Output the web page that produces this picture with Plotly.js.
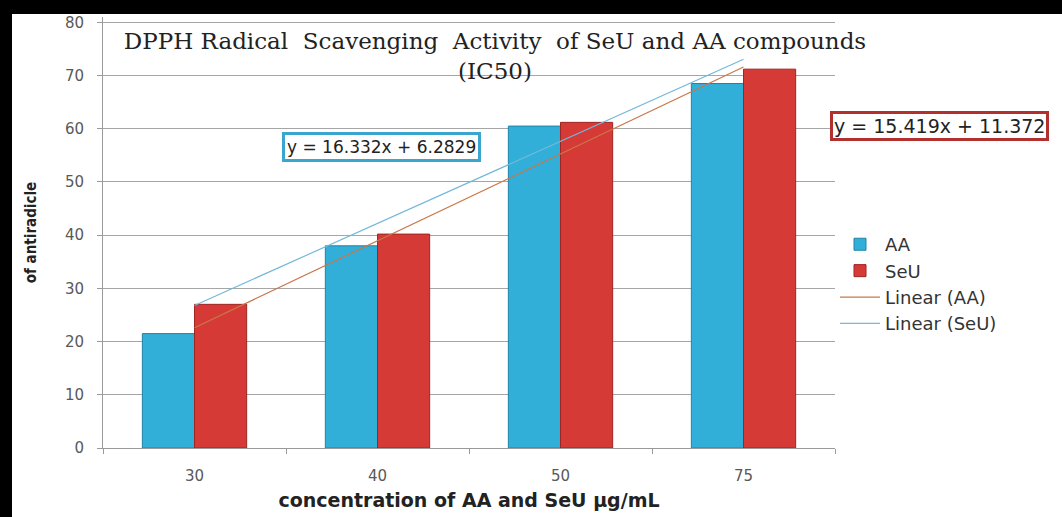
<!DOCTYPE html>
<html>
<head>
<meta charset="utf-8">
<script src="https://cdn.plot.ly/plotly-3.0.1.min.js"></script>
<style>
  html, body { margin: 0; padding: 0; background: #000; width: 1062px; height: 517px; overflow: hidden; }
  #chart { position: absolute; left: 12px; top: 14px; width: 1050px; height: 503px; background: #fff; }
</style>
</head>
<body>
<div id="chart"></div>
<script>
// ---- data ----
const categories = ["30", "40", "50", "75"];
const aaValues = [21.5, 38, 60.5, 68.5];
const seuValues = [27, 40.2, 61.2, 71.2];
const aaTrend = { slope: 16.332, intercept: 6.2829, label: "y = 16.332x + 6.2829" };
const seuTrend = { slope: 15.419, intercept: 11.372, label: "y = 15.419x + 11.372" };
const yTicks = [0, 10, 20, 30, 40, 50, 60, 70, 80];

// category positions (Excel trendline uses 1..n)
const xpos = categories.map((c, i) => i + 1);
const trendX = [xpos[0], xpos[xpos.length - 1]];
const lineY = (t) => trendX.map(x => t.slope * x + t.intercept);

const sans = "'DejaVu Sans', 'Open Sans', sans-serif";
const tickFont = { family: sans, size: 15, color: "#595959" };

const traces = [
  {
    type: "bar", name: "AA", x: xpos, y: aaValues, legendgroup: "a",
    marker: { color: "#32afd8", line: { color: "#1f84a8", width: 1 } }
  },
  {
    type: "bar", name: "SeU", x: xpos, y: seuValues, legendgroup: "b",
    marker: { color: "#d63a36", line: { color: "#9e2522", width: 1 } }
  },
  {
    type: "scatter", mode: "lines", name: "Linear (AA)", x: trendX, y: lineY(aaTrend), legendgroup: "c",
    line: { color: "#c9764a", width: 1.2 }
  },
  {
    type: "scatter", mode: "lines", name: "Linear (SeU)", x: trendX, y: lineY(seuTrend), legendgroup: "d",
    line: { color: "#72b9da", width: 1.2 }
  }
];

const layout = {
  width: 1050, height: 503,
  margin: { l: 91, r: 227, t: 3, b: 69 },
  paper_bgcolor: "#fff", plot_bgcolor: "#fff",
  barmode: "group", bargap: 0.43, bargroupgap: 0,
  showlegend: true,
  title: {
    text: "DPPH Radical  Scavenging  Activity  of SeU and AA compounds<br>(IC50)",
    font: { family: "'DejaVu Serif', 'Liberation Serif', serif", size: 23, color: "#222" },
    xref: "container", yref: "container", x: 0.46, y: 0.93, xanchor: "center", yanchor: "middle"
  },
  xaxis: {
    range: [0.5, 4.5],
    tickvals: xpos, ticktext: categories,
    ticks: "", showgrid: false, zeroline: false,
    showline: true, linecolor: "#9a9a9a", linewidth: 1,
    tickfont: tickFont, ticklabelstandoff: 14,
    minor: { tickvals: [0.5, 1.5, 2.5, 3.5, 4.5], ticks: "outside", ticklen: 5, tickcolor: "#9a9a9a", showgrid: false },
    title: { text: "concentration of AA and SeU µg/mL", font: { family: sans, size: 19, color: "#222", weight: "bold" }, standoff: 9 }
  },
  yaxis: {
    range: [0, 81], tickvals: yTicks, ticklabeloverflow: "allow",
    ticks: "outside", ticklen: 5, tickcolor: "#9a9a9a",
    showgrid: true, gridcolor: "#a6a6a6", gridwidth: 1,
    zeroline: false, showline: true, linecolor: "#9a9a9a", linewidth: 1,
    tickfont: tickFont, ticklabelstandoff: 10,
    title: { text: "of antiradicle", font: { family: "'Liberation Sans Narrow', 'DejaVu Sans Condensed', sans-serif", size: 15, color: "#222", weight: "bold" }, standoff: 24 }
  },
  legend: {
    x: 1.0, xanchor: "left", y: 0.515, yanchor: "top",
    font: { family: sans, size: 18, color: "#333" },
    bgcolor: "rgba(0,0,0,0)", tracegroupgap: 0, itemwidth: 40
  },
  annotations: [
    {
      xref: "paper", yref: "paper", x: 0.38, y: 0.699, xanchor: "center", yanchor: "middle",
      text: aaTrend.label, showarrow: false,
      font: { family: sans, size: 17, color: "#222" },
      bgcolor: "#fff", bordercolor: "#3aa6cf", borderwidth: 3, borderpad: 2
    },
    {
      xref: "paper", yref: "paper", x: 1.143, y: 0.746, xanchor: "center", yanchor: "middle",
      text: seuTrend.label, showarrow: false,
      font: { family: sans, size: 19, color: "#222" },
      bgcolor: "#fff", bordercolor: "#b2302d", borderwidth: 3, borderpad: 1
    }
  ]
};

Plotly.newPlot("chart", traces, layout, { displayModeBar: false, staticPlot: true });
</script>
</body>
</html>
